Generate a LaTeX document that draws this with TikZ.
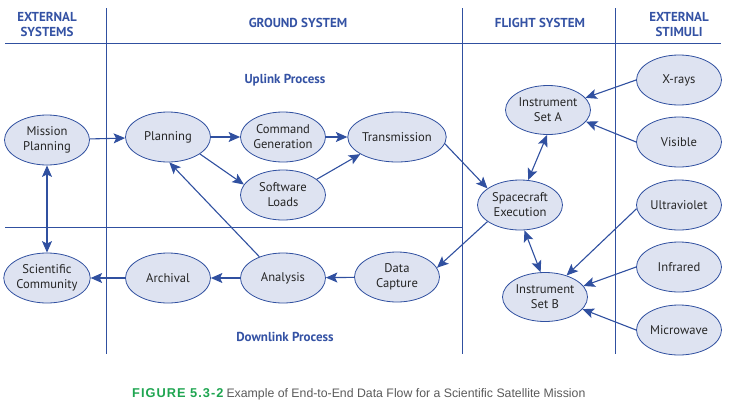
\documentclass[tikz,border=0pt]{standalone}
\usepackage{fontspec}
\setmainfont{PT Sans}
\newfontfamily\capfont{Liberation Sans}
\newfontfamily\figfont[LetterSpace=8]{Liberation Sans}
\usepackage{tikz}
\usetikzlibrary{arrows.meta,shapes.geometric,positioning}
\definecolor{lineblue}{RGB}{48,80,160}
\definecolor{headblue}{RGB}{52,82,164}
\definecolor{ovalfill}{RGB}{222,227,241}
\definecolor{figgreen}{RGB}{30,165,80}
\definecolor{capgray}{RGB}{90,90,90}

\begin{document}
\begin{tikzpicture}[x=1pt,y=-1pt,>={Stealth[length=11.5pt,width=10pt,inset=2.5pt]}]
		\tikzstyle{place}=[ellipse, draw=lineblue, fill=ovalfill, line width=0.8pt, minimum width=85pt, minimum height=50pt, inner sep=0pt, align=center, text=black!85, font=\fontsize{12.6}{15}\selectfont]
		\tikzstyle{head}=[text=headblue, align=center, font=\fontsize{13}{15}\selectfont\bfseries]
		\tikzstyle{flow}=[draw=lineblue, line width=1.1pt]
		\tikzstyle{grid}=[draw=lineblue, line width=0.8pt]
		
		\useasboundingbox (0,0) rectangle (740,405);
		
		% Frame
		\draw[grid] (5,43) -- (721,43);
		\draw[grid] (5,227) -- (462,227);
		\foreach \x in {106,462,615}
		\draw[grid] (\x,8) -- (\x,354);
		
		% Headers
		\node at (47,24.5) [head] (h_ext) {EXTERNAL\\SYSTEMS};
		\node at (298,23) [head] (h_gnd) {GROUND SYSTEM};
		\node at (540,23) [head] (h_flt) {FLIGHT SYSTEM};
		\node at (679,24.5) [head] (h_stim) {EXTERNAL\\STIMULI};
		\node at (285,80) [head] (uplink) {Uplink Process};
		\node at (285,337) [head] (downlink) {Downlink Process};
		
		% External systems
		\node at (47,140) [place] (mission) {Mission\\Planning};
		\node at (47,278) [place] (community) {Scientific\\Community};
		
		% Uplink
		\node at (168,137) [place] (planning) {Planning};
		\node at (283,137) [place] (command) {Command\\Generation};
		\node at (283,195) [place] (software) {Software\\Loads};
		\node at (397,137) [place] (transmit) {Transmission};
		
		% Downlink
		\node at (168,278) [place] (archival) {Archival};
		\node at (283,278) [place] (analysis) {Analysis};
		\node at (397,277) [place] (capture) {Data\\Capture};
		
		% Flight system
		\node at (520,205) [place] (execution) {Spacecraft\\Execution};
		\node at (548,110) [place, minimum height=49pt] (inst_a) {Instrument\\Set A};
		\node at (545,297) [place, minimum height=49pt] (inst_b) {Instrument\\Set B};
		
		% Stimuli
		\foreach \n/\y/\t in {xrays/80/X-rays, visible/142/Visible, uv/205/Ultraviolet, infrared/267/Infrared, micro/330/Microwave}
		\node at (679,\y) [place] (\n) {\t};
		
		% Uplink flow
		\draw [flow, ->] (mission) to (planning);
		\draw [flow, ->] (planning) to (command);
		\draw [flow, ->] (planning.-28) to (software.165);
		\draw [flow, ->] (command) to (transmit);
		\draw [flow, ->] (software.25) to (transmit.205);
		\draw [flow, ->] (transmit.-8) to (execution.153);
		
		% Flight system
		\draw [flow, <->] (execution.72) to (inst_a.-92);
		\draw [flow, <->] (execution.-80) to (inst_b.100);
		\draw [flow, ->] (xrays.180) to (inst_a.18);
		\draw [flow, ->] (visible.180) to (inst_a.-17);
		\draw [flow, ->] (uv.185) to (inst_b.45);
		\draw [flow, ->] (infrared.180) to (inst_b.16);
		\draw [flow, ->] (micro.180) to (inst_b.-18);
		
		% Downlink flow
		\draw [flow, ->] (execution.207) to (capture.13);
		\draw [flow, ->] (capture) to (analysis);
		\draw [flow, ->] (analysis) to (archival);
		\draw [flow, ->] (archival) to (community);
		\draw [flow, ->] (analysis.138) to (planning.-87);
		\draw [flow, <->] (mission) to (community);
		
		% Caption
		\node at (132,394) [anchor=west, inner sep=0pt, font=\capfont\fontsize{12.3}{14}\selectfont] (caption) {\textcolor{figgreen}{\figfont\fontsize{12.8}{14}\selectfont\bfseries FIGURE 5.3-2}\hspace{3pt}\textcolor{capgray}{Example of End-to-End Data Flow for a Scientific Satellite Mission}};
\end{tikzpicture}
\end{document}
